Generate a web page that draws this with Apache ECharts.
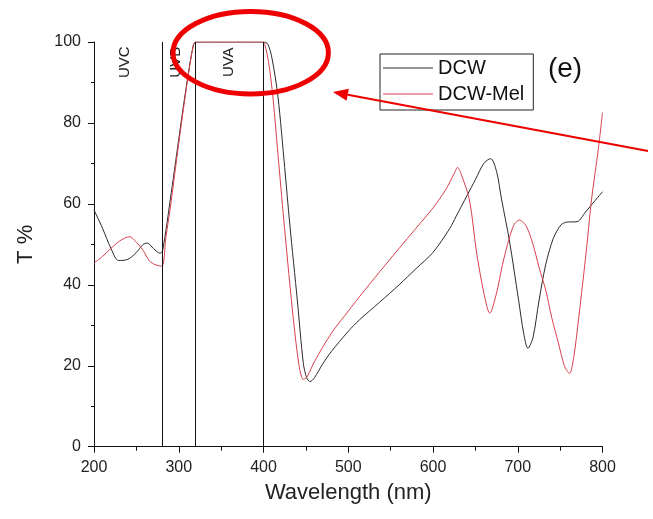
<!DOCTYPE html>
<html>
<head>
<meta charset="utf-8">
<script src="https://cdn.jsdelivr.net/npm/echarts@6/dist/echarts.min.js"></script>
<style>
  html, body { margin: 0; padding: 0; background: #fff; }
  #chart { width: 653px; height: 519px; }
</style>
</head>
<body>
<div id="chart"></div>
<script>
// Transmittance spectra (wavelength in nm, T in %)
const dcwNm = [200, 210, 220, 229, 240, 250, 258, 263, 270, 278, 281, 290, 300, 310, 317, 320, 330, 350, 380, 400,
  405, 410, 417, 425, 431, 440, 447, 451, 455, 460, 470, 480, 500, 513, 537, 560, 580, 600, 620, 627, 640, 650,
  660, 668, 675, 681, 690, 701, 707, 712, 718, 725, 733, 742, 751, 758, 770, 780, 790, 800];
const dcwT = [58.5, 54, 49, 46, 46.3, 48, 50, 50.3, 49, 47.8, 48.5, 61, 76, 90.5, 99, 100, 100, 100, 100, 100,
  99.5, 96, 86.6, 69, 55, 36, 20.6, 17, 16.1, 17, 20.5, 23.5, 28.5, 31.3, 35.7, 40, 44, 48, 54, 56.8, 62, 66,
  70, 71.2, 68, 61, 51.1, 36.2, 28, 24.3, 27, 36, 45, 51.5, 54.8, 55.5, 55.6, 58, 60.5, 63];

const melNm = [200, 210, 220, 230, 242, 250, 258, 265, 272, 280, 285, 290, 300, 310, 317, 320, 330, 350, 380, 400,
  402, 406, 411, 418, 425, 435, 442, 447, 452, 460, 480, 500, 513, 537, 560, 580, 600, 615, 625, 629, 633, 643,
  651, 660, 667, 675, 682, 690, 696, 702, 710, 718, 725, 733, 740, 748, 755, 761, 766, 772, 781, 787, 795, 800];
const melT = [45.4, 47, 49, 50.8, 51.9, 50.5, 48.5, 46, 45, 44.6, 52, 59, 75, 90, 99, 100, 100, 100, 100, 100,
  99, 95, 86.6, 70, 53.6, 32, 20, 16.6, 17.5, 21, 28, 33.5, 37, 43.2, 49, 54, 59, 63.5, 67.5, 69, 67.5, 61,
  48.6, 38, 33, 38, 45, 51.5, 55, 56, 54.5, 50, 44.4, 38.7, 32, 25.6, 20, 18.1, 22, 32, 48.6, 61, 73.4, 82.6];

// UV band boundaries and band names
const bandEdges = [280, 320, 400];
const bandNames = ['UVC', 'UVB', 'UVA'];
const bandLabelNm = [237, 296, 359];
const bandLabelT = 95;

const seriesNames = ['DCW', 'DCW-Mel'];
const seriesColors = ['#2a2a2a', '#d8404c'];
const xTicks = { min: 200, max: 800, step: 100 };
const yTicks = { min: 0, max: 100, step: 20 };

const zip = (xs, ys) => xs.map((x, i) => [x, ys[i]]);

const chart = echarts.init(document.getElementById('chart'), null, { renderer: 'canvas' });

const FONT = 'Liberation Sans, Arial, sans-serif';
const axisText = { color: '#222', fontSize: 16, fontFamily: FONT };

chart.setOption({
  animation: false,
  backgroundColor: '#fff',
  grid: { left: 94, right: 50.5, top: 42, bottom: 72.3 },
  legend: {
    left: 380, top: 54, orient: 'vertical',
    itemWidth: 50, itemHeight: 1, itemGap: 6,
    padding: [4, 9, 6, 3],
    borderColor: '#222', borderWidth: 1,
    textStyle: { fontSize: 20, color: '#111', fontFamily: FONT },
    data: seriesNames.map(n => ({ name: n, icon: 'rect' }))
  },
  xAxis: {
    type: 'value', min: xTicks.min, max: xTicks.max, interval: xTicks.step,
    name: 'Wavelength (nm)', nameLocation: 'middle', nameGap: 35,
    nameTextStyle: { fontSize: 22, color: '#222', fontFamily: FONT },
    axisLine: { lineStyle: { color: '#111', width: 1 } },
    axisTick: { inside: false, length: 6, lineStyle: { color: '#111' } },
    minorTick: { show: true, splitNumber: 2, length: 4, lineStyle: { color: '#111' } },
    axisLabel: Object.assign({ margin: 13 }, axisText),
    splitLine: { show: false }
  },
  yAxis: {
    type: 'value', min: yTicks.min, max: yTicks.max, interval: yTicks.step,
    name: 'T %', nameLocation: 'middle', nameGap: 57, nameRotate: 90,
    nameTextStyle: { fontSize: 22, color: '#222', fontFamily: FONT },
    axisLine: { show: true, lineStyle: { color: '#111', width: 1 } },
    axisTick: { show: true, inside: false, length: 6, lineStyle: { color: '#111' } },
    minorTick: { show: true, splitNumber: 2, length: 3, lineStyle: { color: '#111' } },
    axisLabel: Object.assign({ margin: 13 }, axisText),
    splitLine: { show: false }
  },
  series: [
    {
      name: seriesNames[0], type: 'line', data: zip(dcwNm, dcwT),
      smooth: 0.3, symbol: 'none', color: seriesColors[0],
      lineStyle: { width: 1, color: seriesColors[0] },
      markLine: {
        silent: true, symbol: 'none', label: { show: false },
        lineStyle: { color: '#111', width: 1, type: 'solid' },
        data: bandEdges.map(v => ({ xAxis: v }))
      }
    },
    {
      name: seriesNames[1], type: 'line', data: zip(melNm, melT),
      smooth: 0.3, symbol: 'none', color: seriesColors[1],
      lineStyle: { width: 1, color: seriesColors[1] }
    }
  ]
});

// Band names, the red highlight ellipse, the arrow and the panel letter
const bandText = bandNames.map((name, i) => {
  const p = chart.convertToPixel({ gridIndex: 0 }, [bandLabelNm[i], bandLabelT]);
  return {
    type: 'text', x: p[0], y: p[1], rotation: Math.PI / 2, z: 5,
    style: { text: name, fontSize: 15, fill: '#222', align: 'center', verticalAlign: 'middle', fontFamily: FONT }
  };
});

const tip = [333, 92], tail = [648, 151];
const ang = Math.atan2(tail[1] - tip[1], tail[0] - tip[0]);
const headLen = 15, headHalf = 6;
const bx = tip[0] + headLen * Math.cos(ang), by = tip[1] + headLen * Math.sin(ang);
const nx = -Math.sin(ang), ny = Math.cos(ang);

chart.setOption({
  graphic: bandText.concat([
    {
      type: 'ellipse', z: 20,
      shape: { cx: 250.7, cy: 52.7, rx: 77.7, ry: 41.3 },
      style: { fill: 'none', stroke: '#ee0000', lineWidth: 5 }
    },
    {
      type: 'line', z: 20,
      shape: { x1: tail[0], y1: tail[1], x2: bx, y2: by },
      style: { stroke: '#ee0000', lineWidth: 2.2 }
    },
    {
      type: 'polygon', z: 20,
      shape: { points: [tip, [bx + nx * headHalf, by + ny * headHalf], [bx - nx * headHalf, by - ny * headHalf]] },
      style: { fill: '#ee0000' }
    },
    {
      type: 'text', x: 565, y: 69, z: 5,
      style: { text: '(e)', fontSize: 28, fill: '#111', align: 'center', verticalAlign: 'middle', fontFamily: FONT }
    }
  ])
});
</script>
</body>
</html>
